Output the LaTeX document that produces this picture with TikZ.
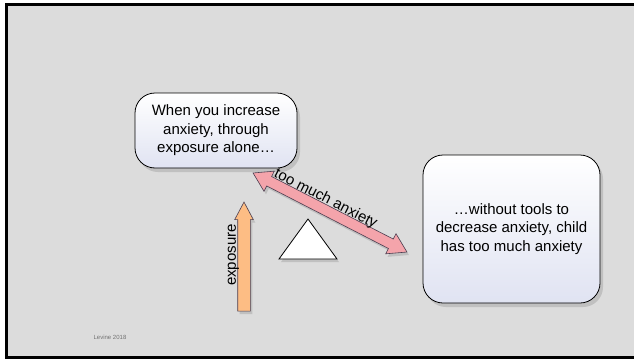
\documentclass[tikz,border=0pt]{standalone}
\usepackage{fontspec}
\setmainfont{Liberation Sans}
\usetikzlibrary{arrows.meta,shapes.arrows,shadows,calc}

\definecolor{slidegray}{HTML}{DCDCDC}
\definecolor{bubbleblue}{HTML}{E0E3F2}
\definecolor{anxietypink}{HTML}{F4A4AB}
\definecolor{exposureorange}{HTML}{FDBD84}
\definecolor{arrowline}{HTML}{4A3D50}

\begin{document}
\begin{tikzpicture}[
    x=1pt,y=1pt,
    bubble/.style={draw=black,line width=0.8pt,rounded corners=20pt,
        top color=white,middle color=white,bottom color=bubbleblue,
        align=center,inner sep=0pt,font=\fontsize{15}{18.5}\selectfont,
        drop shadow={shadow xshift=3pt,shadow yshift=-4pt,opacity=0.3}},
    fat arrow/.style={draw=arrowline,line width=0.6pt,inner xsep=0pt,
        drop shadow={shadow xshift=2pt,shadow yshift=-3pt,opacity=0.3}},
    arrow text/.style={font=\fontsize{15}{18}\selectfont,inner sep=0pt}
]
\useasboundingbox (0,0) rectangle (634,360);
\fill[white] (0,0) rectangle (634,360);
\draw[line width=3pt,fill=slidegray] (6,2.5) rectangle (636,355.5);

% speech bubbles
\node[bubble,minimum width=162,minimum height=75] (increase) at (216,229.5)
    {When you increase\\anxiety, through\\exposure alone…};
\node[bubble,minimum width=177,minimum height=148] (tooMuch) at (511.5,131)
    {…without tools to\\decrease anxiety, child\\has too much anxiety};

% see-saw
\draw[line width=0.8pt,fill=white,drop shadow={shadow xshift=2pt,shadow yshift=-3pt,opacity=0.3}]
    (279,101) coordinate (pivotL) -- (308,141) coordinate (pivotTop)
    -- (337,101) coordinate (pivotR) -- cycle;

% arrows
\node[fat arrow,double arrow,fill=anxietypink,rotate=-27.2,inner ysep=5pt,
    minimum height=173,minimum width=22,double arrow head extend=6,
    double arrow tip angle=64] (anxiety) at (330,147.5) {};
\path (anxiety.center) ++(-27.2:-10) ++(62.8:10)
    node[arrow text,rotate=-27.2] (anxietyLbl) {too much anxiety};

\node[fat arrow,single arrow,fill=exposureorange,rotate=90,inner ysep=6pt,
    minimum height=109,minimum width=18,single arrow head extend=3,
    single arrow tip angle=56] (exposure) at (244,97.5) {};
\node[arrow text,rotate=90] (exposureLbl) at (233.5,105) {exposure};

\node[font=\fontsize{6}{7}\selectfont,text=black!55] (credit) at (110,23) {Levine 2018};

\end{tikzpicture}
\end{document}
